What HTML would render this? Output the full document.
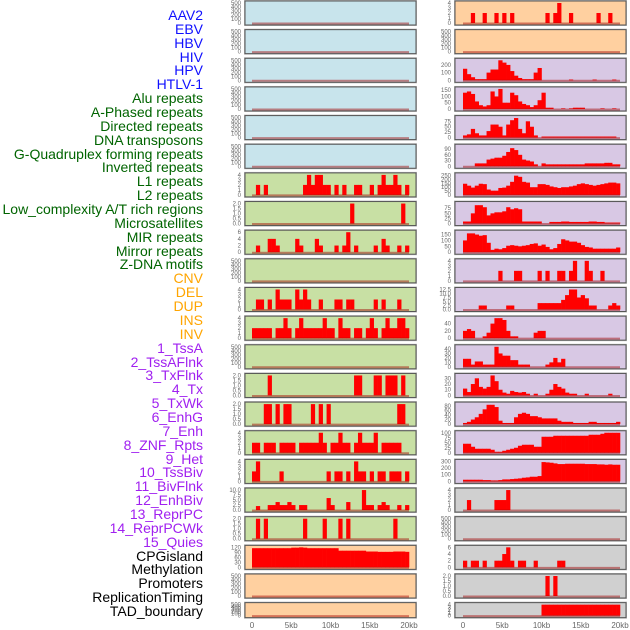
<!DOCTYPE html>
<html><head><meta charset="utf-8">
<style>
body{margin:0;background:#fff;width:630px;height:630px;overflow:hidden;font-family:"Liberation Sans",sans-serif}
#labels{position:absolute;left:0;top:0;width:203px}
.lab{position:absolute;right:0;font-size:14px;line-height:16px;white-space:nowrap;text-align:right}
svg{position:absolute;left:0;top:0}
</style></head>
<body>
<div id="labels"></div>
<svg id="chart" width="630" height="630"></svg>
<script>
const labelNames=["AAV2","EBV","HBV","HIV","HPV","HTLV-1","Alu repeats","A-Phased repeats","Directed repeats","DNA transposons","G-Quadruplex forming repeats","Inverted repeats","L1 repeats","L2 repeats","Low_complexity A/T rich regions","Microsatellites","MIR repeats","Mirror repeats","Z-DNA motifs","CNV","DEL","DUP","INS","INV","1_TssA","2_TssAFlnk","3_TxFlnk","4_Tx","5_TxWk","6_EnhG","7_Enh","8_ZNF_Rpts","9_Het","10_TssBiv","11_BivFlnk","12_EnhBiv","13_ReprPC","14_ReprPCWk","15_Quies","CPGisland","Methylation","Promoters","ReplicationTiming","TAD_boundary"];
const labelColors=["#1010ff","#1010ff","#1010ff","#1010ff","#1010ff","#1010ff","#006400","#006400","#006400","#006400","#006400","#006400","#006400","#006400","#006400","#006400","#006400","#006400","#006400","#ffa500","#ffa500","#ffa500","#ffa500","#ffa500","#a020f0","#a020f0","#a020f0","#a020f0","#a020f0","#a020f0","#a020f0","#a020f0","#a020f0","#a020f0","#a020f0","#a020f0","#a020f0","#a020f0","#a020f0","#000","#000","#000","#000","#000"];
// left column: background, ymax, tick labels, 40 bins (0.5kb)
const leftBg=["#c8e4ec","#c8e4ec","#c8e4ec","#c8e4ec","#c8e4ec","#c8e4ec","#c8e0a4","#c8e0a4","#c8e0a4","#c8e0a4","#c8e0a4","#c8e0a4","#c8e0a4","#c8e0a4","#c8e0a4","#c8e0a4","#c8e0a4","#c8e0a4","#c8e0a4","#ffd0a0","#ffd0a0","#ffd0a0"];
const leftMax=[500,500,500,500,500,500,4,2,6,500,4,4,500,2,2,4,4,10,2,120,500,500];
const leftTicks=[
"0,100,200,300,400,500","0,100,200,300,400,500","0,100,200,300,400,500","0,100,200,300,400,500","0,100,200,300,400,500","0,100,200,300,400,500",
"0,1,2,3,4","0.0,0.5,1.0,1.5,2.0","0,2,4,6","0,100,200,300,400,500","0,1,2,3,4","0,1,2,3,4","0,100,200,300,400,500","0.0,0.5,1.0,1.5,2.0","0.0,0.5,1.0,1.5,2.0","0,1,2,3,4","0,1,2,3,4","0.0,2.5,5.0,7.5,10.0","0.0,0.5,1.0,1.5,2.0","0,30,60,90,120","0,100,200,300,400,500","0,100,200,300,400,500"];
const leftVals=[
[],[],[],[],[],[],
[0,2,0,2,0,0,0,0,0,0,0,0,0,2,4,2,4,4,2,2,0,2,0,2,0,0,2,2,0,0,2,0,2,4,2,2,4,2,0,2],
[0,0,0,0,0,0,0,0,0,0,0,0,0,0,0,0,0,0,0,0,0,0,0,0,0,2,0,0,0,0,0,0,0,0,0,0,0,0,2,0],
[0,2,0,0,4,4,2,0,0,0,0,4,2,0,0,0,4,2,0,0,0,2,0,2,6,0,2,0,0,0,0,2,0,4,2,0,0,2,0,2],
[],
[0,2,2,0,2,0,4,2,2,2,0,4,2,4,2,0,0,2,0,0,0,2,2,0,2,2,0,0,0,0,0,2,0,2,0,0,0,2,0,0],
[2,2,2,2,2,0,2,2,4,2,0,2,4,2,2,2,2,2,4,2,2,0,4,2,2,0,2,2,0,2,4,2,0,2,4,2,2,4,4,2],
[],
[0,0,0,0,2,0,0,0,0,0,0,0,0,0,0,0,0,0,0,0,0,0,0,0,0,0,2,2,0,0,0,2,2,0,2,2,2,0,2,0],
[0,0,0,2,2,0,2,0,2,2,0,0,0,0,0,2,0,2,0,2,0,0,0,0,0,0,0,0,0,0,0,0,0,0,0,0,0,2,2,0],
[2,2,0,2,2,2,0,2,2,2,2,0,2,2,2,2,2,4,2,0,2,2,4,2,2,0,2,4,2,2,2,4,0,2,2,2,2,2,0,0],
[2,4,0,0,0,0,0,2,0,0,0,0,0,0,0,0,0,0,0,2,0,2,2,0,2,0,4,2,2,0,2,0,2,2,0,2,2,2,0,2],
[0,2,0,0,2.5,2.5,4,2.5,2.5,4,2.5,0,2.5,2.5,0,0,0,0,0,6,2.5,0,0,0,4,0,0,0,10,2.5,2.5,0,2.5,4,2.5,0,0,2.5,0,2.5],
[0,2,0,2,0,0,0,0,0,0,0,0,0,2,0,0,0,0,2,0,0,0,2,0,2,0,0,0,0,0,0,0,0,0,0,0,2,0,0,0],
[115,115,115,115,115,115,115,115,115,115,118,118,120,118,115,115,115,115,115,115,115,115,100,100,100,100,100,100,100,95,95,95,93,93,93,93,95,95,95,93],
[],[]];
// right column
const rightBg=["#ffd0a0","#ffd0a0","#d8c8e4","#d8c8e4","#d8c8e4","#d8c8e4","#d8c8e4","#d8c8e4","#d8c8e4","#d8c8e4","#d8c8e4","#d8c8e4","#d8c8e4","#d8c8e4","#d8c8e4","#d8c8e4","#d8c8e4","#d0d0d0","#d0d0d0","#d0d0d0","#d0d0d0","#d0d0d0"];
const rightMax=[4,500,260,160,92,105,260,98,170,4,12.5,55,45,35,88,100,300,4,500,6,2,4];
const rightTicks=["0,1,2,3,4","0,100,200,300,400,500","0,100,200","0,50,100,150","0,25,50,75","0,30,60,90","0,50,100,150,200,250","0,25,50,75","0,50,100,150","0,1,2,3,4","0.0,2.5,5.0,7.5,10.0,12.5","0,20,40","0,10,20,30,40","0,10,20,30","0,20,40,60,80","0,25,50,75,100","0,100,200,300","0,1,2,3,4","0,100,200,300,400,500","0,2,4,6","0.0,0.5,1.0,1.5,2.0","0,1,2,3,4"];
const rightVals=[
[0,0,2,0,0,2,0,0,2,0,2,0,2,0,0,0,0,0,0,0,0,2,0,2,4,0,0,2,0,0,0,0,0,0,2,0,0,2,0,0],
[],
[150,80,40,15,15,15,100,140,140,260,230,200,120,60,30,15,15,15,100,160,0,0,0,0,0,0,0,10,0,0,0,0,0,10,0,0,0,0,10,0],
[130,140,120,60,30,20,30,140,100,160,50,50,130,110,60,40,30,15,30,70,130,10,10,0,0,5,0,5,10,10,10,0,0,0,0,5,0,0,5,0],
[10,15,40,20,10,10,30,60,60,50,10,60,80,90,40,20,75,50,10,0,5,5,5,5,5,5,5,5,5,5,5,5,5,5,5,5,5,5,5,0],
[0,0,0,15,15,15,35,40,45,45,55,75,95,85,60,35,30,25,10,0,15,10,10,10,10,10,10,10,10,10,10,15,15,15,15,15,18,18,10,10],
[145,120,95,120,145,140,70,55,55,90,95,120,170,250,235,170,160,100,100,140,140,130,110,100,90,100,100,110,120,140,150,140,130,120,130,140,150,160,160,150],
[10,10,50,90,90,80,40,50,55,55,60,80,70,75,70,10,10,10,10,10,0,0,8,8,8,10,10,8,8,8,8,8,10,10,8,8,5,5,5,5],
[100,160,160,150,140,145,80,20,30,25,35,55,60,55,50,55,60,70,75,55,65,45,25,35,70,110,100,90,90,80,60,45,40,30,30,30,30,30,30,40],
[0,0,0,0,0,0,0,0,0,2,0,0,0,2,2,0,0,0,0,2,0,2,0,0,2,2,0,2,4,0,0,4,2,0,0,2,0,0,0,0],
[0,0,0,0,2.5,2.5,0,0,0,0,0,2.5,2.5,0,0,0,0,0,0,4,4,4,4,4,4,6,9,12.5,12.5,7.5,9,7,2.5,2.5,0,0,0,2.5,4,2.5],
[20,25,20,0,0,5,15,40,55,55,50,20,5,5,0,0,0,0,15,20,20,0,0,0,0,0,0,0,0,0,0,0,0,0,0,0,0,0,0,0],
[18,18,5,12,12,5,5,5,45,30,25,25,15,15,5,5,5,0,0,0,0,5,10,20,10,18,0,0,0,0,0,0,0,0,0,0,0,0,0,0],
[12,6,20,30,15,12,15,35,25,10,5,3,8,6,5,6,3,0,3,0,0,3,10,20,15,12,5,3,3,0,0,3,0,0,0,0,0,3,0,0],
[5,10,20,30,45,65,85,85,75,15,5,5,5,30,45,50,45,35,35,30,25,25,25,25,15,10,10,10,5,5,5,5,10,10,5,5,5,5,5,10],
[45,45,30,20,20,20,20,15,5,5,10,15,20,25,35,40,40,40,30,30,80,80,80,85,85,85,85,85,85,85,85,85,90,90,90,95,100,100,100,100],
[25,25,25,25,25,20,20,15,15,20,30,30,35,40,45,55,60,70,70,80,290,285,280,270,260,260,265,265,265,265,265,260,260,260,255,255,250,255,250,250],
[0,2,0,0,0,0,0,0,2,2,2,4,0,0,0,0,0,0,0,0,0,0,0,0,0,0,0,0,0,0,0,0,0,0,0,0,0,0,0,0],
[],
[2,0,2,2,0,2,0,0,2,2,4,6,2,0,2,2,0,0,2,0,0,0,0,0,2,2,0,0,0,0,0,0,0,0,0,0,0,0,0,0],
[0,0,0,0,0,0,0,0,0,0,0,0,0,0,0,0,0,0,0,0,0,2,0,2,0,0,0,0,0,0,0,0,0,0,0,0,0,0,0,0],
[0,0,0,0,0,0,0,0,0,0,0,0,0,0,0,0,0,0,0,0,4,4,4,4,4,4,4,4,4,4,4,4,4,4,4,4,4,4,4,4]];
const xTickLabels=["0","5kb","10kb","15kb","20kb"];
const xTickKb=[0,5,10,15,20];

const NS="http://www.w3.org/2000/svg";
const svg=document.getElementById('chart');
const labDiv=document.getElementById('labels');
labelNames.forEach((t,i)=>{
  const d=document.createElement('div');
  d.className='lab';
  d.textContent=t;
  d.style.color=labelColors[i];
  d.style.top=(7+i*13.6)+'px';
  
  
  labDiv.appendChild(d);
});
// adjust: labels are 30 visible in reference; use spacing to fit
(function(){const n=labelNames.length;const kids=labDiv.children;for(let i=0;i<n;i++){kids[i].style.top=(7+i*(596/(n-1)))+'px';kids[i].style.fontSize=(n>30?'14px':'14px');}})();

function el(tag,attrs,parent){const e=document.createElementNS(NS,tag);for(const k in attrs)e.setAttribute(k,attrs[k]);(parent||svg).appendChild(e);return e;}
function rowTop(i){return 1+i*28.65;}
function rowH(i){return i===21?15:24;}
function xScale(col,kb){return (col===0?252:463)+kb/20*157;}

function drawPanel(col,i,bg,ymax,ticks,vals){
  const px=col===0?245:455, top=rowTop(i), h=rowH(i);
  const g=el('g',{});
  
  
  el('rect',{x:px-1,y:top-1,width:173,height:h+2,fill:'#bbb'},g);
  const r=el('rect',{x:px,y:top,width:171,height:h,fill:bg,stroke:'#555','stroke-width':1},g);
  
  
  const y0=top+h-2, yr=h-4;
  const yS=v=>y0-v/ymax*yr;
  ticks.split(',').forEach(t=>{
    const tx=el('text',{x:px-4,y:yS(parseFloat(t))+2,'font-size':6,fill:'#666','text-anchor':'end'},g);
    tx.textContent=t;
    
    
  });
  vals.forEach((v,b)=>{
    if(v<=0)return;
    const x1=xScale(col,b*0.5), x2=xScale(col,(b+1)*0.5);
    const bar=el('rect',{x:x1,y:yS(v),width:x2-x1+0.3,height:y0-yS(v),fill:'#ff0000'},g);
    
    
  });
  const zl=el('line',{x1:xScale(col,0),x2:xScale(col,20),y1:y0+0.5,y2:y0+0.5,stroke:'rgba(160,0,0,0.45)','stroke-width':2},g);
  
  
}
for(let i=0;i<22;i++){
  drawPanel(0,i,leftBg[i],leftMax[i],leftTicks[i],leftVals[i]);
  drawPanel(1,i,rightBg[i],rightMax[i],rightTicks[i],rightVals[i]);
}
[0,1].forEach(col=>{
  xTickLabels.forEach((t,k)=>{
    const tx=el('text',{x:xScale(col,xTickKb[k]),y:628,'font-size':8,fill:'#666','text-anchor':'middle'});
    tx.textContent=t;
    
    
  });
});
</script>
</body></html>
